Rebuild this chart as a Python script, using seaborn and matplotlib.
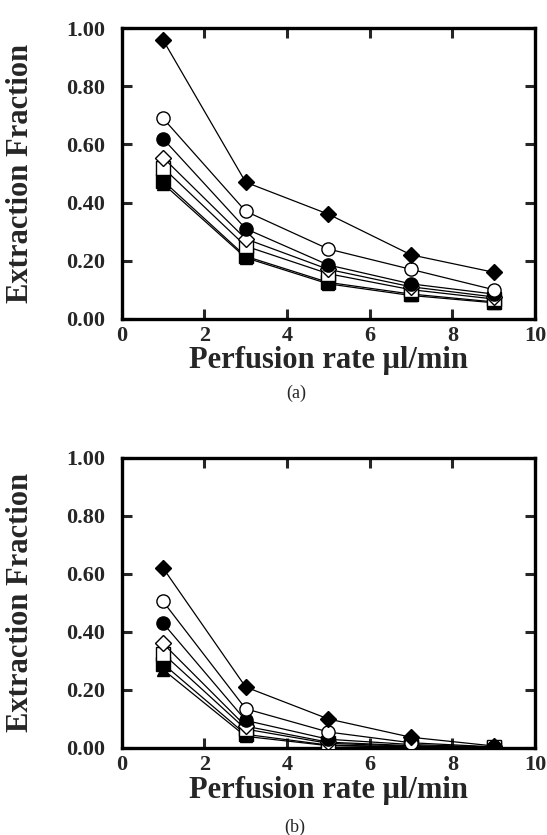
import matplotlib
matplotlib.use("Agg")
import matplotlib.pyplot as plt
import seaborn as sns
import pandas as pd

# ---- data ----
perfusion_rate = [1, 3, 5, 7, 9]
series_names = ["filled diamond", "open circle", "filled circle", "open diamond",
                "open square", "filled square", "filled triangle"]
series_markers = ["D", "o", "o", "D", "s", "s", "^"]
series_filled = [True, False, True, False, False, True, True]

panel_a = {
    "filled diamond":  [0.96, 0.47, 0.36, 0.22, 0.16],
    "open circle":     [0.69, 0.37, 0.24, 0.17, 0.10],
    "filled circle":   [0.62, 0.31, 0.185, 0.12, 0.085],
    "open diamond":    [0.555, 0.275, 0.17, 0.11, 0.075],
    "open square":     [0.52, 0.25, 0.155, 0.10, 0.068],
    "filled square":   [0.475, 0.215, 0.125, 0.085, 0.058],
    "filled triangle": [0.465, 0.21, 0.12, 0.08, 0.055],
}
panel_b = {
    "filled diamond":  [0.62, 0.21, 0.10, 0.037, 0.007],
    "open circle":     [0.505, 0.135, 0.055, 0.018, 0.004],
    "filled circle":   [0.43, 0.095, 0.03, 0.012, 0.003],
    "open diamond":    [0.36, 0.075, 0.02, 0.008, 0.002],
    "open square":     [0.325, 0.065, 0.016, 0.006, 0.002],
    "filled square":   [0.29, 0.047, 0.01, 0.004, 0.001],
    "filled triangle": [0.27, 0.04, 0.008, 0.003, 0.001],
}
x_ticks = [0, 2, 4, 6, 8, 10]
y_ticks = [0.0, 0.2, 0.4, 0.6, 0.8, 1.0]
y_ticklabels = ["0.00", "0.20", "0.40", "0.60", "0.80", "1.00"]
x_label = "Perfusion rate \u03bcl/min"
y_label = "Extraction Fraction"
panel_labels = ["(a)", "(b)"]

# ---- style ----
sns.set_style("ticks")
plt.rcParams["font.family"] = ["Liberation Serif", "DejaVu Serif"]

fig = plt.figure(figsize=(5.47, 8.35), dpi=100)
ax_a = fig.add_axes([0.2225, 0.6183, 0.7555, 0.3478])
ax_b = fig.add_axes([0.2225, 0.1042, 0.7555, 0.3477])


def draw(ax, panel):
    for name, mk, filled in reversed(list(zip(series_names, series_markers, series_filled))):
        df = pd.DataFrame({"x": perfusion_rate, "y": panel[name]})
        ms = 9.5 if mk != "^" else 9
        if mk == "D":
            ms = 8.5
        sns.lineplot(data=df, x="x", y="y", ax=ax, color="black", lw=0.9,
                     marker=mk, markersize=ms,
                     markerfacecolor="black" if filled else "white",
                     markeredgecolor="black", markeredgewidth=1.0,
                     legend=False, zorder=3)
    ax.set_xlim(0, 10)
    ax.set_ylim(0, 1.0)
    ax.set_xticks(x_ticks)
    ax.set_yticks(y_ticks)
    ax.set_yticklabels(y_ticklabels)
    for lab in ax.get_xticklabels() + ax.get_yticklabels():
        lab.set_fontweight("bold")
        lab.set_fontsize(16)
    ax.tick_params(direction="in", top=True, right=True, length=7, width=2.2,
                   labeltop=False, labelright=False)
    ax.tick_params(axis="x", pad=5)
    ax.tick_params(axis="y", pad=12)
    for sp in ax.spines.values():
        sp.set_visible(True)
        sp.set_linewidth(2.4)
        sp.set_color("black")
    ax.set_xlabel(x_label, fontsize=22, fontweight="bold")
    ax.set_ylabel(y_label, fontsize=22, fontweight="bold")
    ax.xaxis.set_label_coords(0.5, -0.095)
    ax.yaxis.set_label_coords(-0.21, 0.5)
    ax.grid(False)


draw(ax_a, panel_a)
draw(ax_b, panel_b)

fig.text(296 / 547, 1 - 393 / 835, panel_labels[0], ha="center", va="center", fontsize=13)
fig.text(295 / 547, 1 - 827 / 835, panel_labels[1], ha="center", va="center", fontsize=13)

fig.savefig("out.png", dpi=100, facecolor="white")
